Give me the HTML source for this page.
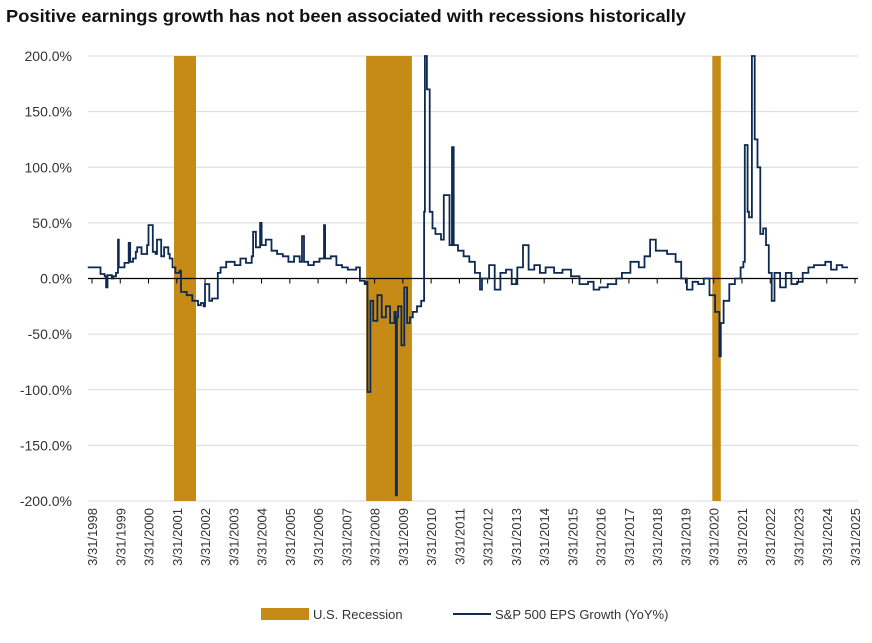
<!DOCTYPE html>
<html><head><meta charset="utf-8"><style>
body{margin:0;background:#fff;width:872px;height:638px;overflow:hidden;font-family:"Liberation Sans",sans-serif}
</style></head><body>
<svg id="chart" width="872" height="638" xmlns="http://www.w3.org/2000/svg">
<text x="6" y="22" font-size="17.5" font-weight="bold" fill="#111" textLength="680" lengthAdjust="spacingAndGlyphs">Positive earnings growth has not been associated with recessions historically</text>
<g id="grid"></g><g id="rec"></g><g id="axis"></g><g id="line"></g><g id="labels"></g>
<g>
<rect x="261" y="608" width="48" height="12" fill="#C68A17"/>
<text x="313" y="619" font-size="13" fill="#333">U.S. Recession</text>
<line x1="453" y1="614" x2="491" y2="614" stroke="#0E2A52" stroke-width="2"/>
<text x="495" y="619" font-size="13" fill="#333">S&amp;P 500 EPS Growth (YoY%)</text>
</g>
</svg>
<script>
const yTicks=[200,150,100,50,0,-50,-100,-150,-200];
const xYears=[1998,1999,2000,2001,2002,2003,2004,2005,2006,2007,2008,2009,2010,2011,2012,2013,2014,2015,2016,2017,2018,2019,2020,2021,2022,2023,2024,2025];
const recStart=[2001.15,2007.95,2020.2];
const recEnd=[2001.93,2009.57,2020.5];
const epsYears=[1998.1,1998.4,1998.55,1998.7,1998.75,1998.8,1998.95,1999.0,1999.1,1999.17,1999.2,1999.4,1999.55,1999.6,1999.7,1999.8,1999.85,2000.0,2000.2,2000.25,2000.4,2000.5,2000.55,2000.7,2000.8,2000.95,2001.0,2001.1,2001.2,2001.35,2001.4,2001.6,2001.8,2002.0,2002.1,2002.2,2002.25,2002.4,2002.5,2002.7,2002.8,2003.0,2003.3,2003.5,2003.7,2003.9,2003.95,2004.05,2004.2,2004.25,2004.4,2004.6,2004.8,2005.0,2005.2,2005.4,2005.6,2005.68,2005.75,2005.9,2006.1,2006.3,2006.46,2006.5,2006.7,2006.9,2007.1,2007.3,2007.6,2007.73,2007.9,2007.95,2008.0,2008.1,2008.2,2008.35,2008.5,2008.65,2008.8,2008.95,2009.0,2009.04,2009.08,2009.2,2009.3,2009.4,2009.5,2009.6,2009.75,2009.9,2010.0,2010.03,2010.1,2010.2,2010.3,2010.4,2010.6,2010.7,2010.9,2010.99,2011.05,2011.2,2011.4,2011.6,2011.8,2011.98,2012.05,2012.3,2012.5,2012.7,2012.9,2013.1,2013.3,2013.5,2013.7,2013.9,2014.1,2014.3,2014.6,2014.9,2015.2,2015.5,2015.8,2016.0,2016.2,2016.5,2016.8,2017.0,2017.3,2017.6,2017.8,2018.0,2018.2,2018.3,2018.6,2018.9,2019.1,2019.3,2019.5,2019.7,2019.9,2020.1,2020.3,2020.45,2020.5,2020.6,2020.8,2021.0,2021.2,2021.3,2021.35,2021.45,2021.5,2021.6,2021.7,2021.8,2021.9,2022.0,2022.1,2022.2,2022.3,2022.4,2022.6,2022.8,2023.0,2023.2,2023.4,2023.6,2023.8,2024.0,2024.2,2024.4,2024.6,2024.8,2025.0,2025.1,2025.2,2025.3];
const epsValues=[10,10,4,2,-8,3,0,2,5,35,10,14,32,15,18,24,28,22,30,48,24,22,35,20,28,22,18,10,5,7,-12,-15,-20,-24,-22,-25,-5,-20,-18,5,10,15,12,18,14,20,42,28,50,30,35,25,22,20,15,20,15,38,15,12,15,18,48,18,20,12,10,8,10,-2,-5,-3,-102,-20,-38,-15,-35,-25,-40,-30,-195,-35,-25,-60,-8,-40,-35,-30,-25,-20,60,200,170,60,45,40,35,75,30,118,30,25,20,15,5,-10,0,12,-10,5,8,-5,10,30,8,12,5,10,5,8,2,-5,-3,-10,-8,-5,0,5,15,10,20,35,25,25,22,15,0,-10,-3,-5,0,-15,-30,-70,-40,-20,-5,0,10,15,120,60,55,200,125,100,40,45,30,5,-20,5,-8,5,-5,-3,5,10,12,12,15,8,12,10];
const NS="http://www.w3.org/2000/svg";
const X0=88,X1=858,Y0=56,Y1=501;
function yS(v){return Y0+(200-v)/400*(Y1-Y0);}
function xS(yr){return 92+(yr-1998.25)*28.26;}
function mk(t,a,p){const e=document.createElementNS(NS,t);for(const k in a)e.setAttribute(k,a[k]);document.getElementById(p).appendChild(e);return e;}
yTicks.forEach(v=>{
 const g=mk('line',{x1:X0,x2:X1,y1:yS(v),y2:yS(v),stroke:v===0?'none':'#d9d9d9','stroke-width':1},'grid');
 
 
 const t=mk('text',{x:72,y:yS(v)+5,'text-anchor':'end','font-size':14,fill:'#333'},'labels');
 t.textContent=v.toFixed(1)+'%';
 
 
});
recStart.forEach((s,i)=>{
 const r=mk('rect',{x:xS(s),y:Y0,width:xS(recEnd[i])-xS(s),height:Y1-Y0,fill:'#C68A17'},'rec');
 
 
});
const ax=mk('line',{x1:X0,x2:X1,y1:yS(0),y2:yS(0),stroke:'#000','stroke-width':1.3},'axis');


xYears.forEach(yr=>{
 const x=xS(yr+0.25);
 const tk=mk('line',{x1:x,x2:x,y1:yS(0),y2:yS(0)+5,stroke:'#000'},'axis');
 
 
 const t=mk('text',{x:0,y:0,'text-anchor':'end','font-size':13,fill:'#333',transform:`translate(${x+5},${508}) rotate(-90)`},'labels');
 t.textContent='3/31/'+yr;
 
 
});
let d='';
epsYears.forEach((yr,i)=>{
 const v=Math.max(-200,Math.min(200,epsValues[i]));
 const x=xS(yr).toFixed(1), y=yS(v).toFixed(1);
 if(i===0){d+='M'+X0+','+y+'H'+x;}
 else{d+='H'+x+'V'+y;}
});
d+='H'+xS(2025.45).toFixed(1);
const p=mk('path',{d:d,fill:'none',stroke:'#0E2A52','stroke-width':1.8,'stroke-linejoin':'miter'},'line');


</script>
</body></html>
